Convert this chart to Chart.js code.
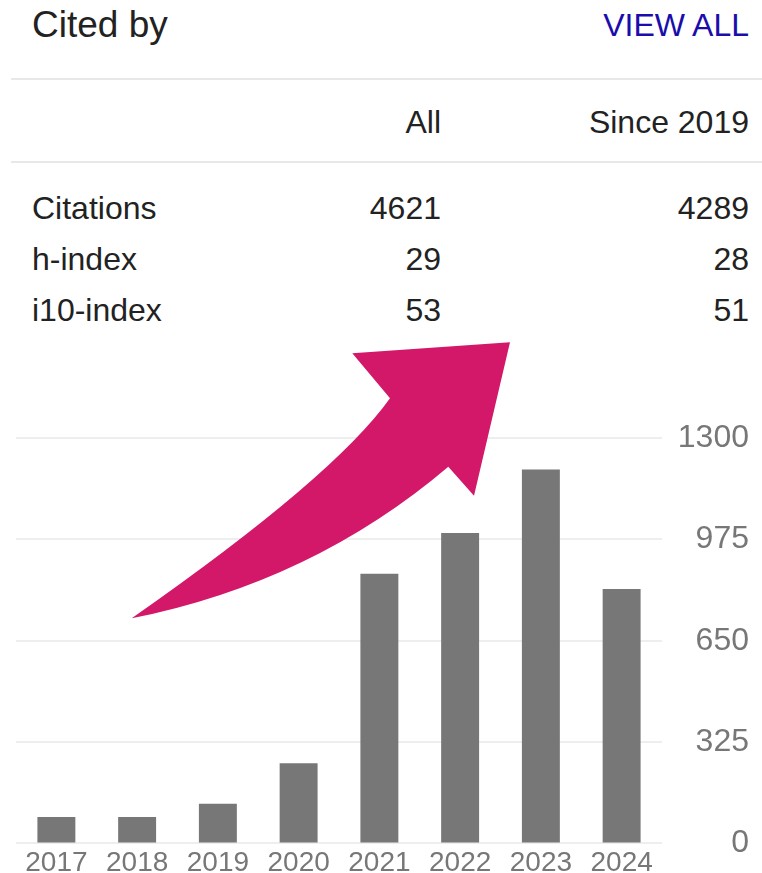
<!DOCTYPE html>
<html>
<head>
<meta charset="utf-8">
<script src="https://cdn.jsdelivr.net/npm/chart.js@4"></script>
<style>
  html, body { margin: 0; padding: 0; background: #fff; }
  body { width: 762px; height: 873px; overflow: hidden; position: relative;
         font-family: Arial, "Liberation Sans", Helvetica, sans-serif; color: #222; }
  .t { position: absolute; white-space: nowrap; line-height: 1; font-size: 32px; }
  .rule { position: absolute; left: 11px; right: 0; height: 2px; background: #e8e8e8; }
  #wrap { position: absolute; left: 0; top: 330px; width: 762px; height: 553px; }
</style>
</head>
<body>

<div class="t" style="left:32px; top:6px; font-size:37px;">Cited by</div>
<div class="t" style="right:13px; top:9px; color:#1a0dab;">VIEW ALL</div>
<div class="rule" style="top:78px;"></div>
<div class="t" style="right:321px; top:106px;">All</div>
<div class="t" style="right:13px; top:106px;">Since 2019</div>
<div class="rule" style="top:161px;"></div>
<div id="stats"></div>

<div id="wrap"><canvas id="myChart"></canvas></div>

<script>
  //table data
  const statNames = ['Citations', 'h-index', 'i10-index'];
  const statAll = [4621, 29, 53];
  const statSince2019 = [4289, 28, 51];

  //chart data
  const years = ['2017', '2018', '2019', '2020', '2021', '2022', '2023', '2024'];
  const citations = [85, 85, 127, 257, 865, 995, 1199, 816];
  const yTicks = [0, 325, 650, 975, 1300];

  //build the stats rows
  const stats = document.getElementById('stats');
  statNames.forEach(function(name, i){
    const top = 192 + i * 51;
    stats.innerHTML +=
      '<div class="t" style="left:32px; top:' + top + 'px;">' + name + '</div>' +
      '<div class="t" style="right:321px; top:' + top + 'px;">' + statAll[i] + '</div>' +
      '<div class="t" style="right:13px; top:' + top + 'px;">' + statSince2019[i] + '</div>';
  });

  //pink arrow drawn over the bars
  const arrowPlugin = {
    id: 'arrow',
    afterDraw: function(chart){
      const ctx = chart.ctx;
      const oy = 330; // canvas top on the page
      ctx.save();
      ctx.translate(0, -oy);
      ctx.fillStyle = '#d31869';
      ctx.beginPath();
      ctx.moveTo(131.7, 618.3);
      ctx.quadraticCurveTo(334, 477, 390, 398.3);
      ctx.lineTo(352.3, 353.3);
      ctx.lineTo(510, 342.3);
      ctx.lineTo(474, 495.7);
      ctx.lineTo(448.3, 466.7);
      ctx.quadraticCurveTo(312.6, 582.1, 131.7, 618.3);
      ctx.closePath();
      ctx.fill();
      ctx.restore();
    }
  };

  const data = {
    labels: years,
    datasets: [{
      label: 'Citations',
      backgroundColor: '#777777',
      data: citations,
      categoryPercentage: 1,
      barPercentage: 0.47
    }]
  };

  const config = {
    type: 'bar',
    data: data,
    plugins: [arrowPlugin],
    options: {
      responsive: true,
      maintainAspectRatio: false,
      animation: false,
      layout: { padding: { left: 16, right: 13, top: 108, bottom: 0 } },
      plugins: { legend: { display: false }, tooltip: { enabled: false } },
      scales: {
        x: {
          grid: { display: false, drawTicks: false },
          border: { display: false },
          ticks: {
            color: '#777',
            padding: 3,
            maxRotation: 0,
            font: { family: 'Arial, "Liberation Sans", sans-serif', size: 28 }
          }
        },
        y: {
          position: 'right',
          min: 0,
          max: 1300,
          afterBuildTicks: function(axis){
            axis.ticks = yTicks.map(function(v){ return { value: v }; });
          },
          afterFit: function(axis){ axis.width = 87; },
          grid: { color: '#eeeeee', lineWidth: 2, drawTicks: false },
          border: { display: false },
          ticks: {
            color: '#777',
            padding: 0,
            crossAlign: 'far',
            callback: function(value){ return String(value); },
            font: { family: 'Arial, "Liberation Sans", sans-serif', size: 32 }
          }
        }
      }
    }
  };

  //create the chart
  const myChart = new Chart(
    document.getElementById('myChart'),
    config
  );
</script>
</body>
</html>
